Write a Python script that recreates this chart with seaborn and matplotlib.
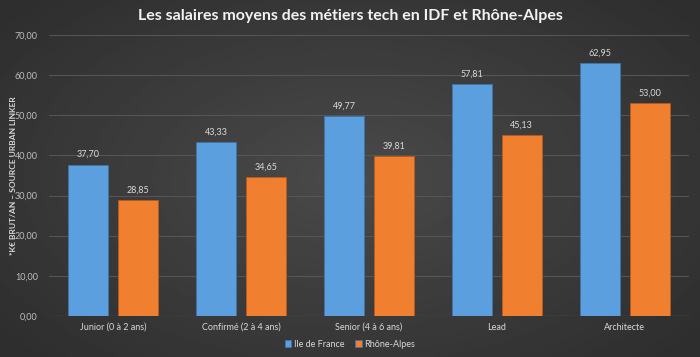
import numpy as np
import pandas as pd
import matplotlib.pyplot as plt
import seaborn as sns

categories = ["Junior (0 à 2 ans)", "Confirmé (2 à 4 ans)", "Senior (4 à 6 ans)", "Lead", "Architecte"]
idf = [37.70, 43.33, 49.77, 57.81, 62.95]
rhone = [28.85, 34.65, 39.81, 45.13, 53.00]
series = ["Ile de France", "Rhône-Alpes"]

df = pd.DataFrame({
    "categorie": categories * 2,
    "salaire": idf + rhone,
    "region": [series[0]] * len(idf) + [series[1]] * len(rhone),
})

sns.set_theme(style="dark")
plt.rcParams["font.family"] = ["Lato", "DejaVu Sans"]

fig = plt.figure(figsize=(7, 3.57), dpi=100)

# dark radial background
bg = fig.add_axes([0, 0, 1, 1], zorder=-10)
yy, xx = np.mgrid[-1:1:200j, -1:1:400j]
r = np.sqrt(xx ** 2 + (yy * 0.9) ** 2)
bg.imshow(0.29 - 0.11 * np.clip(r / 1.3, 0, 1), cmap="gray", vmin=0, vmax=1,
          aspect="auto", extent=[0, 1, 0, 1])
bg.axis("off")

ax = fig.add_axes([0.07, 0.115, 0.914, 0.787])
ax.set_facecolor("none")
sns.barplot(data=df, x="categorie", y="salaire", hue="region",
            palette=["#5c9fdf", "#f0802f"], saturation=1, width=0.78, gap=0.2,
            edgecolor="#3f74a8", linewidth=0.6, ax=ax)
for p in ax.patches[5:10]:
    p.set_edgecolor("#b85a1c")

for cont in ax.containers:
    ax.bar_label(cont, labels=[f"{v:.2f}".replace(".", ",") for v in cont.datavalues],
                 padding=4, fontsize=6.5, color="#d9d9d9")

ax.set_ylim(0, 70)
ax.set_yticks(range(0, 71, 10))
ax.set_yticklabels([f"{v},00" for v in range(0, 71, 10)], fontsize=6.5, color="#bfbfbf")
ax.tick_params(axis="x", colors="#d9d9d9", labelsize=6.5, length=0, pad=5)
ax.tick_params(axis="y", length=0, pad=8)
ax.grid(axis="y", color="#555555", linewidth=0.8)
ax.set_axisbelow(True)
for s in ax.spines.values():
    s.set_visible(False)
ax.axhline(0, color="#808080", linewidth=0.8)
ax.set_xlabel("")
ax.set_ylabel("*K€ BRUT/AN – SOURCE URBAN LINKER", fontsize=6, color="#d9d9d9",
              fontweight="bold", labelpad=6)
ax.yaxis.set_label_coords(-0.05, 0.5)

handles, labels = ax.get_legend_handles_labels()
ax.get_legend().remove()
fig.legend(handles, labels, loc="center", bbox_to_anchor=(0.5, 0.036), ncol=2,
           frameon=False, fontsize=6.5, labelcolor="#d9d9d9", handlelength=0.7,
           handleheight=0.7, handletextpad=0.3, columnspacing=1.2)

fig.text(0.5, 0.955, "Les salaires moyens des métiers tech en IDF et Rhône-Alpes",
         ha="center", va="center", fontsize=11.5, color="#f2f2f2", fontweight="bold")

fig.savefig("out.png", dpi=100)
